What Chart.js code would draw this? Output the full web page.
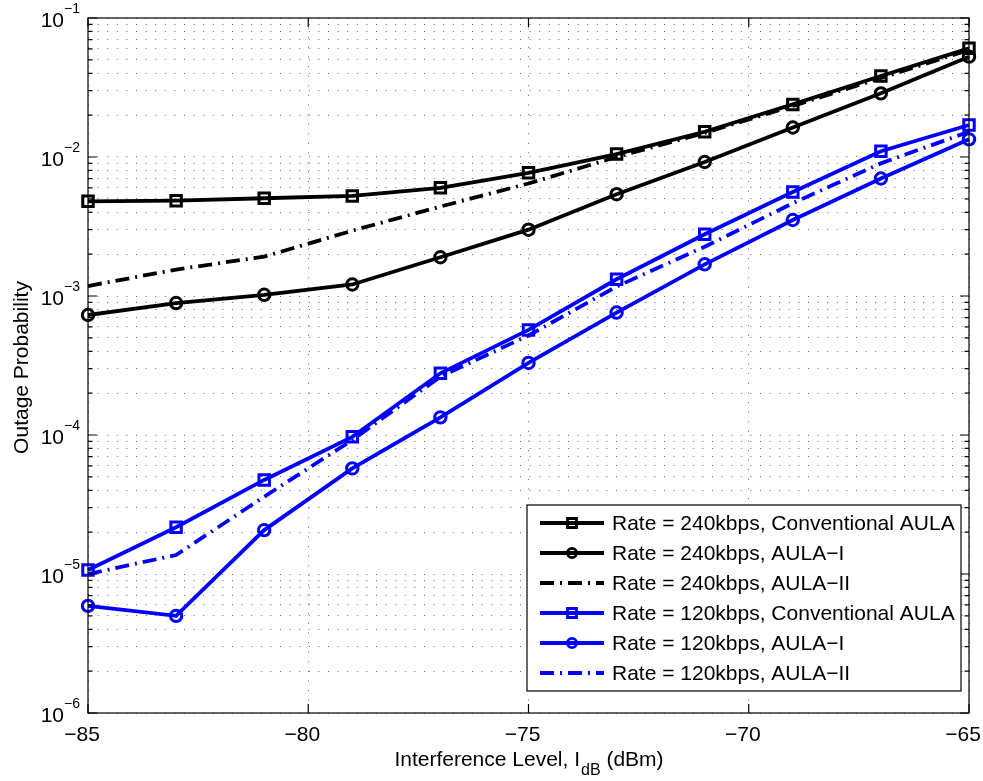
<!DOCTYPE html>
<html>
<head>
<meta charset="utf-8">
<script src="https://cdn.jsdelivr.net/npm/chart.js@4.4.1/dist/chart.umd.min.js"></script>
<style>
  html, body { margin: 0; padding: 0; background: #ffffff; }
  #wrap { width: 983px; height: 781px; }
</style>
</head>
<body>
<div id="wrap"><canvas id="outageChart" width="983" height="781"></canvas></div>
<script>
// interference levels (dBm)
const levels = [-85, -83, -81, -79, -77, -75, -73, -71, -69, -67, -65];

// outage probability, 240 kbps
const conv240 = [4.8e-3, 4.85e-3, 5.05e-3, 5.25e-3, 6.0e-3, 7.7e-3, 1.05e-2, 1.52e-2, 2.39e-2, 3.83e-2, 6.05e-2];
const aulaI240 = [7.3e-4, 8.9e-4, 1.02e-3, 1.21e-3, 1.9e-3, 3.0e-3, 5.4e-3, 9.2e-3, 1.63e-2, 2.87e-2, 5.27e-2];
const aulaII240 = [1.18e-3, 1.55e-3, 1.92e-3, 2.95e-3, 4.4e-3, 6.45e-3, 1.0e-2, 1.49e-2, 2.33e-2, 3.7e-2, 5.9e-2];

// outage probability, 120 kbps
const conv120 = [1.07e-5, 2.17e-5, 4.75e-5, 9.7e-5, 2.78e-4, 5.7e-4, 1.32e-3, 2.78e-3, 5.6e-3, 1.1e-2, 1.7e-2];
const aulaI120 = [5.9e-6, 5.0e-6, 2.07e-5, 5.75e-5, 1.34e-4, 3.3e-4, 7.6e-4, 1.69e-3, 3.52e-3, 7.0e-3, 1.34e-2];
const aulaII120 = [1.0e-5, 1.37e-5, 3.6e-5, 9.2e-5, 2.63e-4, 5.2e-4, 1.17e-3, 2.26e-3, 4.65e-3, 9.0e-3, 1.52e-2];

// axis ticks
const xTicks = [-85, -80, -75, -70, -65];
const yExponents = [-6, -5, -4, -3, -2, -1];

const FONT = '"Liberation Sans", Arial, Helvetica, sans-serif';
const DASHDOT = [14, 6, 2, 6];

const yGrid = [];
yExponents.forEach(e => {
    for (let m = 1; m <= 9; m++) {
        if (e === -1 && m > 1) break;
        yGrid.push(+(m * Math.pow(10, e)).toPrecision(3));
    }
});

const pts = arr => arr.map((v, i) => ({ x: levels[i], y: v }));

function series(label, values, color, marker, dashed) {
    return {
        label: label,
        data: pts(values),
        borderColor: color,
        borderWidth: 3.8,
        borderDash: dashed ? DASHDOT : [],
        pointStyle: marker || 'circle',
        pointRadius: marker === 'rect' ? 7.4 : (marker ? 5.7 : 0),
        pointBorderWidth: 3,
        pointBorderColor: color,
        pointBackgroundColor: 'rgba(0,0,0,0)',
        pointHoverRadius: 0,
        tension: 0,
        fill: false,
        clip: false
    };
}

const datasets = [
    series('Rate = 240kbps, Conventional AULA', conv240, '#000000', 'rect', false),
    series('Rate = 240kbps, AULA\u2212I', aulaI240, '#000000', 'circle', false),
    series('Rate = 240kbps, AULA\u2212II', aulaII240, '#000000', null, true),
    series('Rate = 120kbps, Conventional AULA', conv120, '#0000ff', 'rect', false),
    series('Rate = 120kbps, AULA\u2212I', aulaI120, '#0000ff', 'circle', false),
    series('Rate = 120kbps, AULA\u2212II', aulaII120, '#0000ff', null, true)
];

// frame, inward ticks, tick labels, titles and legend box
const decorations = {
    id: 'decorations',
    afterDraw(chart) {
        const ctx = chart.ctx;
        const a = chart.chartArea;
        const xs = chart.scales.x;
        const ys = chart.scales.y;

        ctx.save();
        ctx.strokeStyle = '#000000';
        ctx.lineWidth = 1.2;
        ctx.setLineDash([]);
        ctx.strokeRect(a.left, a.top, a.right - a.left, a.bottom - a.top);

        // inward ticks
        ctx.beginPath();
        yGrid.forEach(v => {
            const y = ys.getPixelForValue(v);
            const len = Math.abs(Math.log10(v) - Math.round(Math.log10(v))) < 1e-6 ? 9 : 4.5;
            ctx.moveTo(a.left, y); ctx.lineTo(a.left + len, y);
            ctx.moveTo(a.right, y); ctx.lineTo(a.right - len, y);
        });
        xTicks.forEach(v => {
            const x = xs.getPixelForValue(v);
            ctx.moveTo(x, a.bottom); ctx.lineTo(x, a.bottom - 9);
            ctx.moveTo(x, a.top); ctx.lineTo(x, a.top + 9);
        });
        ctx.stroke();

        ctx.fillStyle = '#000000';

        // y labels 10^e
        yExponents.forEach(e => {
            const y = ys.getPixelForValue(Math.pow(10, e));
            const sup = '\u2212' + Math.abs(e);
            ctx.font = '14px ' + FONT;
            const supW = ctx.measureText(sup).width;
            const right = a.left - 8;
            ctx.textAlign = 'left';
            ctx.textBaseline = 'alphabetic';
            ctx.fillText(sup, right - supW, y - 5);
            ctx.font = '21px ' + FONT;
            ctx.textAlign = 'right';
            ctx.fillText('10', right - supW, y + 9);
        });

        // x labels (minus sign pulls the label a little left)
        ctx.font = '21px ' + FONT;
        ctx.textAlign = 'center';
        xTicks.forEach(v => {
            const x = xs.getPixelForValue(v);
            ctx.fillText(v < 0 ? '\u2212' + Math.abs(v) : String(v), x - 6, a.bottom + 28);
        });

        // x title with subscript
        const cx = (a.left + a.right) / 2;
        const partA = 'Interference Level, I';
        const partB = 'dB';
        const partC = ' (dBm)';
        ctx.font = '21px ' + FONT;
        const wA = ctx.measureText(partA).width;
        const wC = ctx.measureText(partC).width;
        ctx.font = '16px ' + FONT;
        const wB = ctx.measureText(partB).width;
        const x0 = cx - (wA + wB + wC) / 2;
        const base = a.bottom + 53;
        ctx.textAlign = 'left';
        ctx.font = '21px ' + FONT;
        ctx.fillText(partA, x0, base);
        ctx.font = '16px ' + FONT;
        ctx.fillText(partB, x0 + wA + 1, base + 9);
        ctx.font = '21px ' + FONT;
        ctx.fillText(partC, x0 + wA + wB + 1, base);

        // y title
        ctx.save();
        ctx.translate(28, (a.top + a.bottom) / 2 + 2);
        ctx.rotate(-Math.PI / 2);
        ctx.textAlign = 'center';
        ctx.font = '21px ' + FONT;
        ctx.fillText('Outage Probability', 0, 0);
        ctx.restore();

        // legend
        const bw = 434, bh = 186;
        const bx = a.right - 8 - bw;
        const by = a.bottom - 22 - bh;
        ctx.fillStyle = '#ffffff';
        ctx.fillRect(bx, by, bw, bh);
        ctx.strokeStyle = '#000000';
        ctx.lineWidth = 1.2;
        ctx.strokeRect(bx, by, bw, bh);

        chart.data.datasets.forEach((ds, i) => {
            const ry = by + 18 + i * 30;
            ctx.strokeStyle = ds.borderColor;
            ctx.lineWidth = ds.borderWidth;
            ctx.setLineDash(ds.borderDash);
            ctx.beginPath();
            ctx.moveTo(bx + 13, ry);
            ctx.lineTo(bx + 77, ry);
            ctx.stroke();
            ctx.setLineDash([]);
            if (ds.pointRadius > 0) {
                ctx.lineWidth = 2.8;
                ctx.beginPath();
                if (ds.pointStyle === 'rect') {
                    ctx.rect(bx + 45 - 4.5, ry - 4.5, 9, 9);
                } else {
                    ctx.arc(bx + 45, ry, 4.6, 0, Math.PI * 2);
                }
                ctx.stroke();
            }
            ctx.fillStyle = '#000000';
            ctx.font = '21px ' + FONT;
            ctx.textAlign = 'left';
            ctx.textBaseline = 'middle';
            ctx.fillText(ds.label, bx + 85, ry + 1);
        });
        ctx.restore();
    }
};

new Chart(document.getElementById('outageChart'), {
    type: 'line',
    data: { datasets: datasets },
    options: {
        responsive: false,
        animation: false,
        events: [],
        layout: { padding: { left: 88, right: 14, top: 18, bottom: 68 } },
        plugins: {
            legend: { display: false },
            tooltip: { enabled: false }
        },
        scales: {
            x: {
                type: 'linear',
                min: -85,
                max: -65,
                ticks: { display: false, stepSize: 5 },
                afterBuildTicks: s => { s.ticks = xTicks.map(v => ({ value: v })); },
                grid: { color: 'rgba(0,0,0,0.6)', lineWidth: 1, drawTicks: false },
                border: { display: false, dash: [1, 8.6] }
            },
            y: {
                type: 'logarithmic',
                min: 1e-6,
                max: 1e-1,
                ticks: { display: false },
                afterBuildTicks: s => { s.ticks = yGrid.map(v => ({ value: v })); },
                grid: { color: 'rgba(0,0,0,0.6)', lineWidth: 1, drawTicks: false },
                border: { display: false, dash: [1, 8.6] }
            }
        }
    },
    plugins: [decorations]
});
</script>
</body>
</html>
